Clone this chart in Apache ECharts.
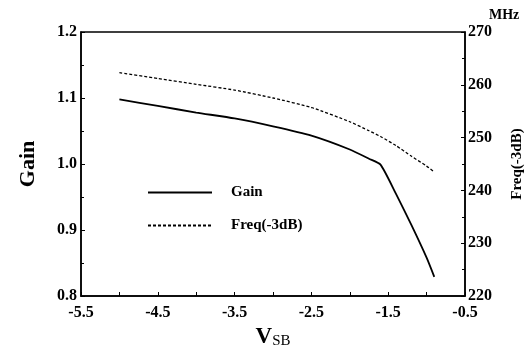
<!DOCTYPE html>
<html>
<head>
<meta charset="utf-8">
<script src="https://cdn.jsdelivr.net/npm/echarts@6/dist/echarts.min.js"></script>
<style>html,body{margin:0;padding:0;background:#fff}#c{width:529px;height:348px}</style>
</head>
<body>
<div id="c"></div>
<script>
const vsb = [-5.0, -4.5, -4.0, -3.5, -3.0, -2.5, -2.0, -1.75, -1.6, -1.4, -1.2, -1.0, -0.9];
const gain = [1.098, 1.088, 1.078, 1.069, 1.057, 1.043, 1.022, 1.008, 0.999, 0.955, 0.908, 0.858, 0.829];
const freq = [262.3, 261.2, 260.1, 259.0, 257.5, 255.7, 253.0, 251.3, 250.2, 248.5, 246.5, 244.6, 243.5];
const xLabels = ['-5.5', '-4.5', '-3.5', '-2.5', '-1.5', '-0.5'];

const font = 'Liberation Serif';
const chart = echarts.init(document.getElementById('c'));
chart.setOption({
  animation: false,
  grid: { left: 81, right: 64, top: 32, bottom: 52, outerBoundsMode: 'none', containLabel: false, show: true, borderColor: '#000', borderWidth: 1.5, backgroundColor: 'transparent' },
  legend: {
    orient: 'vertical', left: 142, top: 180, itemWidth: 64, itemHeight: 12, itemGap: 18,
    itemStyle: { opacity: 0 },
    textStyle: { fontFamily: font, fontWeight: 'bold', fontSize: 15, color: '#000', padding: [0, 0, 0, 14] },
    data: ['Gain', 'Freq(-3dB)']
  },
  xAxis: {
    type: 'value', min: -5.5, max: -0.5, interval: 0.5,
    axisLine: { lineStyle: { color: '#000', width: 1.5 } },
    axisTick: { inside: true, length: 4, lineStyle: { color: '#000' } },
    splitLine: { show: false },
    axisLabel: {
      fontFamily: font, fontWeight: 'bold', fontSize: 16, color: '#000', margin: 9,
      formatter: v => { const s = v.toFixed(1); return xLabels.includes(s) ? s : ''; }
    },
    name: '{v|V}{s|SB}', nameLocation: 'middle', nameGap: 27,
    nameTextStyle: { rich: {
      v: { fontFamily: font, fontWeight: 'bold', fontSize: 23, color: '#000' },
      s: { fontFamily: font, fontSize: 15, color: '#000', verticalAlign: 'bottom', padding: [8, 0, 0, 0] }
    } }
  },
  yAxis: [{
    type: 'value', min: 0.8, max: 1.2, interval: 0.1,
    axisLine: { show: true, lineStyle: { color: '#000', width: 1.5 } },
    axisTick: { show: true, inside: true, length: 4, lineStyle: { color: '#000' } },
    minorTick: { show: true, splitNumber: 2, length: 3, lineStyle: { color: '#000' } },
    splitLine: { show: false },
    axisLabel: { fontFamily: font, fontWeight: 'bold', fontSize: 16, color: '#000', margin: 4, formatter: v => v.toFixed(1) },
    name: 'Gain', nameLocation: 'middle', nameGap: 42, nameRotate: 90,
    nameTextStyle: { fontFamily: font, fontWeight: 'bold', fontSize: 22, color: '#000' }
  }, {
    type: 'value', min: 220, max: 270, interval: 10,
    axisLine: { show: true, lineStyle: { color: '#000', width: 1.5 } },
    axisTick: { show: true, inside: true, length: 4, lineStyle: { color: '#000' } },
    minorTick: { show: true, splitNumber: 2, length: 3, lineStyle: { color: '#000' } },
    splitLine: { show: false },
    axisLabel: { fontFamily: font, fontWeight: 'bold', fontSize: 16, color: '#000', margin: 3 },
    name: 'Freq(-3dB)', nameLocation: 'middle', nameGap: 45, nameRotate: 90,
    nameTextStyle: { fontFamily: font, fontWeight: 'bold', fontSize: 15, color: '#000' }
  }],
  graphic: [{
    type: 'text', left: 489, top: 8,
    style: { text: 'MHz', fontFamily: font, fontWeight: 'bold', fontSize: 14, fill: '#000' }
  }],
  series: [{
    name: 'Gain', type: 'line', yAxisIndex: 0, symbol: 'none', smooth: 0.2,
    lineStyle: { color: '#000', width: 1.8 },
    itemStyle: { color: '#000' },
    data: vsb.map((x, i) => [x, gain[i]])
  }, {
    name: 'Freq(-3dB)', type: 'line', yAxisIndex: 1, symbol: 'none', smooth: 0.2,
    lineStyle: { color: '#000', width: 1.3, type: [3, 2] },
    itemStyle: { color: '#000' },
    data: vsb.map((x, i) => [x, freq[i]])
  }]
});
</script>
</body>
</html>
